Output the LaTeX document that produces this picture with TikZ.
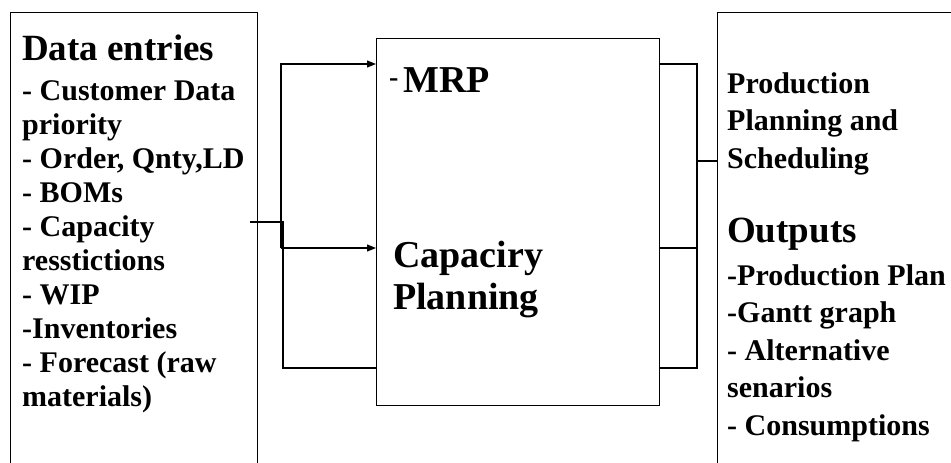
\documentclass[tikz,border=0pt]{standalone}
\usepackage{fontspec}
\setmainfont{Liberation Serif}
\usetikzlibrary{arrows.meta, positioning}

\begin{document}
\begin{tikzpicture}[
  x=1pt, y=-1pt,
  >={Triangle[length=9pt,width=7pt]},
  box/.style={draw=black, line width=1.3pt, inner sep=0pt, anchor=north west},
  wire/.style={line width=1.2pt},
  arr/.style={wire, ->},
  head/.style={font=\fontsize{37}{37}\selectfont\bfseries,
    inner sep=0pt, anchor=base west},
  item/.style={font=\fontsize{30}{30}\selectfont\bfseries,
    inner sep=0pt, anchor=base west},
  big/.style={font=\fontsize{38}{42}\selectfont\bfseries,
    inner sep=0pt, anchor=base west, align=left}
]
\useasboundingbox (0,0) rectangle (951,463);
\clip (0,0) rectangle (951,463);

% ---- Boxes ----
\node[box, minimum width=247pt, minimum height=500pt] (entries) at (10,12) {};
\node[box, minimum width=283pt, minimum height=367pt] (mrp) at (376,38) {};
\node[box, minimum width=300pt, minimum height=500pt] (outputs) at (717,12) {};

% ---- Data entries ----
\node[head] (entHead) at (22,60) {Data entries};
\foreach \txt [count=\i] in {- Customer Data, priority, {- Order, Qnty,LD}, - BOMs,
    - Capacity, resstictions, - WIP, -Inventories, {- Forecast (raw}, {materials)}} {
  \node[item] (ent\i) at (22,{100+34.1*(\i-1)}) {\txt};
}

% ---- MRP / capacity planning ----
\node[big] (mrpLabel) at (389,92) {\raisebox{5.5pt}{\fontsize{28}{28}\selectfont -}\hspace{5pt}MRP};
\node[big] (capLabel) at (393,309) {Capaciry\\Planning};

% ---- Outputs ----
\foreach \txt [count=\i] in {Production, Planning and, Scheduling} {
  \node[item] (pps\i) at (727,{93+37.5*(\i-1)}) {\txt};
}
\node[head] (outHead) at (727,242) {Outputs};
\foreach \txt [count=\i] in {-Production Plan, -Gantt graph, - Alternative,
    senarios, - Consumptions} {
  \node[item] (out\i) at (727,{285+37.5*(\i-1)}) {\txt};
}

% ---- Input wiring ----
\coordinate (feed) at (250,222);
\coordinate (tee) at (283,222);
\coordinate (up) at (281,64);
\coordinate (mid) at (281,248);
\coordinate (low) at (283,368);
\draw[wire] (feed) -- (tee) -- (low) -- (mrp.west |- low);
\draw[arr] (mid) -- (up) -- (mrp.west |- up);
\draw[arr] (mid) -- (mrp.west |- mid);

% ---- Output wiring ----
\coordinate (oUp) at (697,64);
\coordinate (oMid) at (697,248);
\coordinate (oLow) at (697,368);
\coordinate (oTee) at (697,161);
\draw[wire] (mrp.east |- oUp) -- (oUp) -- (oLow) -- (mrp.east |- oLow);
\draw[wire] (mrp.east |- oMid) -- (oMid);
\draw[wire] (oTee) -- (outputs.west |- oTee);

\end{tikzpicture}
\end{document}
